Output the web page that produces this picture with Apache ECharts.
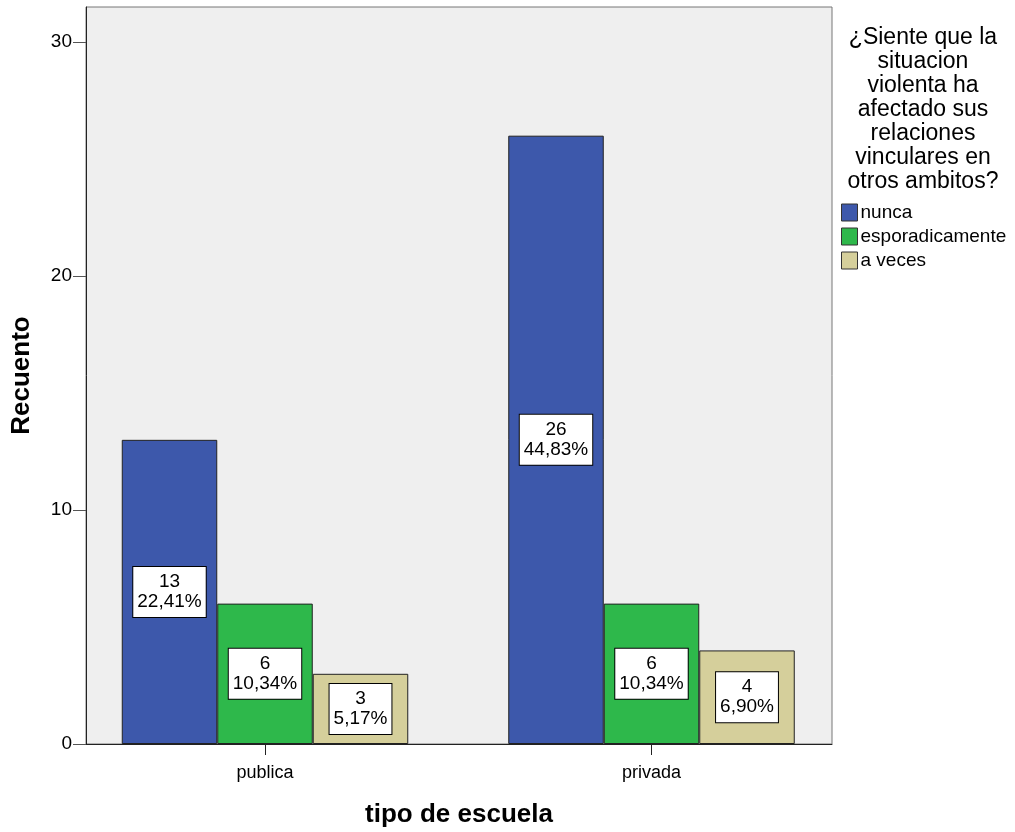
<!DOCTYPE html>
<html>
<head>
<meta charset="utf-8">
<script src="https://cdn.jsdelivr.net/npm/echarts@6/dist/echarts.min.js"></script>
<style>
html,body{margin:0;padding:0;background:#fff;}
#chart{width:1015px;height:832px;}
</style>
</head>
<body>
<div id="chart"></div>
<script>
const categories = ['publica', 'privada'];
const seriesNames = ['nunca', 'esporadicamente', 'a veces'];
const nuncaCounts = [13, 26];
const esporadicamenteCounts = [6, 6];
const aVecesCounts = [3, 4];
const nuncaPct = ['22,41%', '44,83%'];
const esporadicamentePct = ['10,34%', '10,34%'];
const aVecesPct = ['5,17%', '6,90%'];
const yTicks = [0, 10, 20, 30];
const yMax = 31.5;

const colors = ['#3D58AB', '#2EB84B', '#D5CF9B'];
const FONT = 'Liberation Sans, Arial, sans-serif';

function makeSeries(name, values, pcts, color) {
  return {
    name: name,
    type: 'bar',
    xAxisIndex: 0,
    yAxisIndex: 0,
    data: values,
    barWidth: 95.5,
    barGap: '0%',
    itemStyle: { color: color, borderColor: '#222', borderWidth: 1 },
    label: {
      show: true,
      position: 'inside',
      formatter: function (p) { return p.value + '\n' + pcts[p.dataIndex]; },
      color: '#000',
      fontFamily: FONT,
      fontSize: 19,
      lineHeight: 20,
      backgroundColor: '#fff',
      borderColor: '#000',
      borderWidth: 1,
      padding: [6, 4, 4, 4]
    },
    emphasis: { disabled: true }
  };
}

const chart = echarts.init(document.getElementById('chart'), null, { renderer: 'canvas' });
chart.setOption({
  animation: false,
  backgroundColor: '#fff',
  color: colors,
  title: {
    text: '¿Siente que la\nsituacion\nviolenta ha\nafectado sus\nrelaciones\nvinculares en\notros ambitos?',
    left: 918,
    top: 21,
    textAlign: 'center',
    textStyle: { fontFamily: FONT, fontSize: 23, fontWeight: 'normal', color: '#000', lineHeight: 24 }
  },
  legend: {
    data: seriesNames,
    orient: 'vertical',
    left: 836,
    top: 198,
    itemWidth: 16,
    itemHeight: 17,
    itemGap: 5,
    icon: 'rect',
    textStyle: { fontFamily: FONT, fontSize: 19, color: '#000', padding: [0, 0, 0, -2] },
    itemStyle: { borderColor: '#333', borderWidth: 1 }
  },
  grid: [
    {
      left: 71.75,
      right: 170.25,
      top: 7,
      bottom: 88,
      show: false,
      containLabel: false,
      outerBoundsMode: 'none'
    },
    {
      left: 86,
      right: 183,
      top: 7,
      bottom: 88,
      show: true,
      backgroundColor: '#EFEFEF',
      borderColor: '#777',
      borderWidth: 1,
      containLabel: false,
      outerBoundsMode: 'none'
    }
  ],
  xAxis: [
    {
      gridIndex: 0,
      type: 'category',
      data: categories,
      axisLine: { show: false },
      axisTick: { show: true, alignWithLabel: true, length: 11, lineStyle: { color: '#222' } },
      axisLabel: { fontFamily: FONT, fontSize: 18, color: '#000', margin: 20 },
      splitLine: { show: false }
    },
    {
      gridIndex: 1,
      type: 'category',
      data: categories,
      name: 'tipo de escuela',
      nameLocation: 'middle',
      nameGap: 58,
      nameTextStyle: { fontFamily: FONT, fontSize: 26, fontWeight: 'bold', color: '#000' },
      axisLine: { show: true, lineStyle: { color: '#222', width: 1 } },
      axisTick: { show: false },
      axisLabel: { show: false },
      splitLine: { show: false }
    }
  ],
  yAxis: [
    {
      gridIndex: 0,
      type: 'value',
      min: 0,
      max: yMax,
      interval: 10,
      show: false
    },
    {
      gridIndex: 1,
      type: 'value',
      min: 0,
      max: yMax,
      interval: 10,
      name: 'Recuento',
      nameLocation: 'middle',
      nameGap: 51,
      nameRotate: 90,
      nameTextStyle: { fontFamily: FONT, fontSize: 26, fontWeight: 'bold', color: '#000' },
      axisLine: { show: true, lineStyle: { color: '#222', width: 1 } },
      axisTick: { show: true, length: 13, lineStyle: { color: '#555' } },
      axisLabel: {
        fontFamily: FONT, fontSize: 19, color: '#000', margin: 14,
        formatter: function (v) { return yTicks.indexOf(v) >= 0 ? String(v) : ''; },
        showMaxLabel: false
      },
      splitLine: { show: false }
    }
  ],
  series: [
    makeSeries(seriesNames[0], nuncaCounts, nuncaPct, colors[0]),
    makeSeries(seriesNames[1], esporadicamenteCounts, esporadicamentePct, colors[1]),
    makeSeries(seriesNames[2], aVecesCounts, aVecesPct, colors[2])
  ]
});
</script>
</body>
</html>
